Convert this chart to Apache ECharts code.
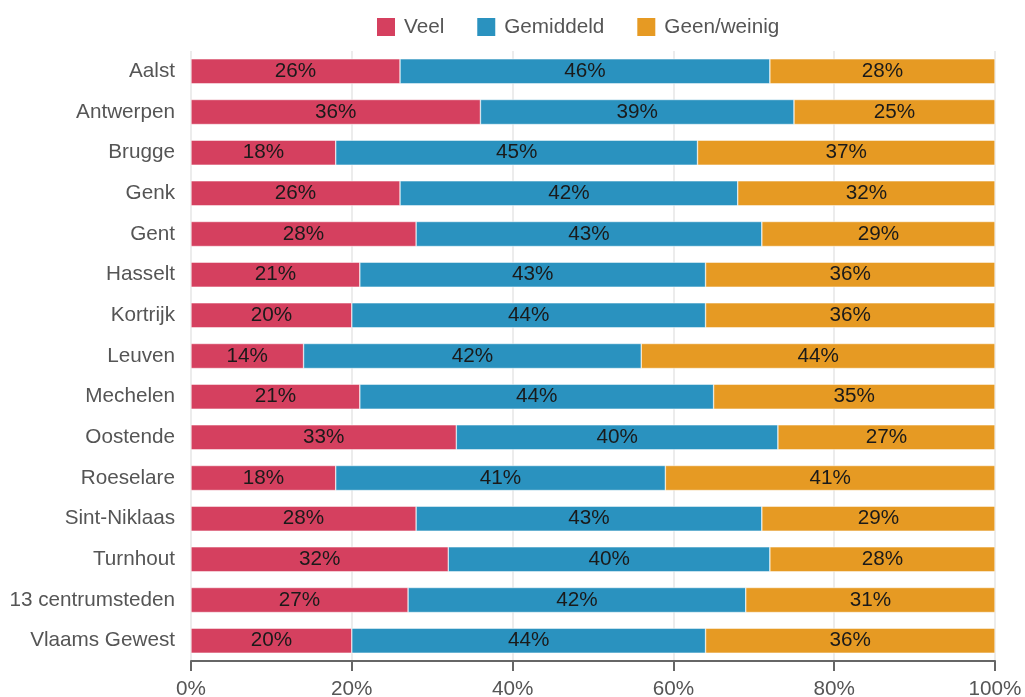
<!DOCTYPE html>
<html><head><meta charset="utf-8">
<script src="https://cdn.jsdelivr.net/npm/echarts@6/dist/echarts.min.js"></script>
<style>html,body{margin:0;padding:0;background:#fff}#c{width:1025px;height:697px}</style>
</head><body><div id="c"></div>
<script>
var categories = ["Aalst","Antwerpen","Brugge","Genk","Gent","Hasselt","Kortrijk","Leuven","Mechelen","Oostende","Roeselare","Sint-Niklaas","Turnhout","13 centrumsteden","Vlaams Gewest"];
var veel = [26,36,18,26,28,21,20,14,21,33,18,28,32,27,20];
var gemiddeld = [46,39,45,42,43,43,44,42,44,40,41,43,40,42,44];
var geenWeinig = [28,25,37,32,29,36,36,44,35,27,41,29,28,31,36];
var xTicks = [0,20,40,60,80,100];

var font = "'Liberation Sans', Arial, sans-serif";
var fs = 20.7;
function mk(name, data, color){
  return {
    name: name, type: 'bar', stack: 't', data: data, barWidth: 25,
    itemStyle: {color: color, borderColor: '#fff', borderWidth: 0.5},
    label: {show: true, position: 'inside', formatter: '{c}%', color: '#1a1a1a', fontSize: fs, fontFamily: font},
    emphasis: {disabled: true}
  };
}
var chart = echarts.init(document.getElementById('c'), null, {renderer: 'canvas'});
chart.setOption({
  animation: false,
  legend: {
    top: 11, left: 370, itemWidth: 20, itemHeight: 20, itemGap: 31,
    textStyle: {fontSize: fs, color: '#555', fontFamily: font, padding: [0,0,0,3]},
    icon: 'rect'
  },
  grid: {left: 191, right: 30, top: 51, bottom: 36, containLabel: false, outerBoundsMode: 'none'},
  xAxis: {
    type: 'value', min: 0, max: 100, interval: 20,
    axisLine: {show: true, lineStyle: {color: '#666', width: 2}},
    axisTick: {show: true, length: 10, lineStyle: {color: '#666', width: 2}},
    axisLabel: {formatter: function(v){return xTicks.indexOf(v) >= 0 ? v + '%' : '';}, fontSize: fs, color: '#555', fontFamily: font, margin: 18},
    splitLine: {show: true, lineStyle: {color: '#e6e6e6', width: 1.5}}
  },
  yAxis: {
    type: 'category', data: categories, inverse: true,
    axisLine: {show: false}, axisTick: {show: false},
    axisLabel: {fontSize: fs, color: '#555', fontFamily: font, margin: 16}
  },
  series: [mk('Veel', veel, '#d5405f'), mk('Gemiddeld', gemiddeld, '#2a92bf'), mk('Geen/weinig', geenWeinig, '#e69a23')]
});
</script></body></html>
